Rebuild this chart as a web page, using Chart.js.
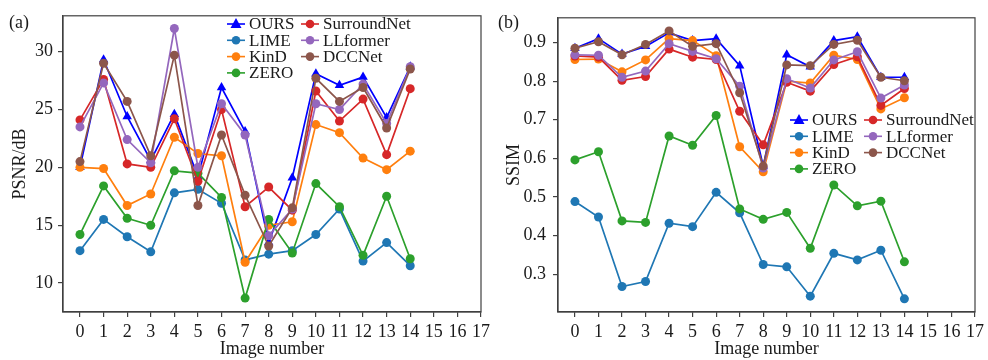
<!DOCTYPE html>
<html>
<head>
<meta charset="utf-8">
<script src="https://cdn.jsdelivr.net/npm/chart.js@4.4.1/dist/chart.umd.min.js"></script>
<style>
  html, body { margin: 0; padding: 0; background: #fff; }
  #wrap { position: relative; width: 988px; height: 360px; }
  .panel { position: absolute; top: 0; width: 494px; height: 360px; }
</style>
</head>
<body>
<div id="wrap">
  <div class="panel" style="left:0"><canvas id="psnrChart"></canvas></div>
  <div class="panel" style="left:494px"><canvas id="ssimChart"></canvas></div>
</div>
<script>
// image indices and axis ticks
const imageNumbers = [0, 1, 2, 3, 4, 5, 6, 7, 8, 9, 10, 11, 12, 13, 14];
const xTickValues = [0, 1, 2, 3, 4, 5, 6, 7, 8, 9, 10, 11, 12, 13, 14, 15, 16, 17];
const psnrTickValues = [10, 15, 20, 25, 30];
const ssimTickValues = [0.3, 0.4, 0.5, 0.6, 0.7, 0.8, 0.9];

const methodNames = ['OURS', 'LIME', 'KinD', 'ZERO', 'SurroundNet', 'LLformer', 'DCCNet'];
const methodColors = ['#0000ff', '#1f77b4', '#ff7f0e', '#2ca02c', '#d62728', '#9467bd', '#8c564b'];

// PSNR (dB) per image
const psnrOurs     = [20.0, 29.3, 24.4, 20.6, 24.6, 19.2, 26.9, 23.1, 13.5, 19.1, 28.1, 27.1, 27.8, 24.3, 28.7];
const psnrLime     = [12.8, 15.5, 14.0, 12.7, 17.8, 18.1, 16.9, 12.0, 12.5, 12.8, 14.2, 16.4, 11.9, 13.5, 11.5];
const psnrKind     = [20.0, 19.9, 16.7, 17.7, 22.6, 21.2, 21.0, 11.8, 15.0, 15.3, 23.7, 23.0, 20.8, 19.8, 21.4];
const psnrZero     = [14.2, 18.4, 15.6, 15.0, 19.7, 19.5, 17.4, 8.7, 15.5, 12.6, 18.6, 16.6, 12.4, 17.5, 12.1];
const psnrSurround = [24.1, 27.6, 20.3, 20.0, 24.2, 18.8, 25.0, 16.6, 18.3, 16.3, 26.6, 24.0, 25.9, 21.1, 26.8];
const psnrLLformer = [23.5, 27.3, 22.4, 20.4, 32.0, 20.0, 25.5, 22.8, 14.1, 16.4, 25.5, 25.0, 27.2, 23.8, 28.7];
const psnrDcc      = [20.5, 29.0, 25.7, 21.0, 29.7, 16.7, 22.8, 17.6, 13.2, 16.5, 27.7, 25.7, 26.9, 23.4, 28.5];

// SSIM per image
const ssimOurs     = [0.885, 0.910, 0.870, 0.890, 0.925, 0.905, 0.910, 0.840, 0.580, 0.868, 0.837, 0.905, 0.915, 0.810, 0.810];
const ssimLime     = [0.488, 0.448, 0.268, 0.281, 0.432, 0.423, 0.512, 0.459, 0.325, 0.319, 0.243, 0.354, 0.337, 0.362, 0.236];
const ssimKind     = [0.856, 0.857, 0.824, 0.855, 0.910, 0.905, 0.866, 0.630, 0.565, 0.800, 0.795, 0.867, 0.856, 0.728, 0.757];
const ssimZero     = [0.596, 0.617, 0.438, 0.434, 0.658, 0.634, 0.711, 0.469, 0.442, 0.460, 0.367, 0.531, 0.477, 0.489, 0.332];
const ssimSurround = [0.865, 0.862, 0.802, 0.812, 0.883, 0.862, 0.856, 0.722, 0.635, 0.797, 0.774, 0.843, 0.863, 0.737, 0.781];
const ssimLLformer = [0.868, 0.867, 0.810, 0.826, 0.897, 0.877, 0.858, 0.787, 0.575, 0.806, 0.782, 0.855, 0.876, 0.756, 0.790];
const ssimDcc      = [0.885, 0.902, 0.868, 0.895, 0.930, 0.890, 0.897, 0.770, 0.580, 0.842, 0.840, 0.895, 0.906, 0.810, 0.801];

const FONT = "'Liberation Serif', 'DejaVu Serif', serif";
const AXIS_COLOR = '#404040';
const TEXT_COLOR = '#1a1a1a';

// frame + panel tag + two-column legend, drawn on top of the chart
const decorPlugin = {
    id: 'decor',
    afterDraw(chart, args, opts) {
        const ctx = chart.ctx;
        const a = chart.chartArea;
        ctx.save();
        ctx.strokeStyle = AXIS_COLOR;
        ctx.lineWidth = 1.2;
        ctx.strokeRect(a.left, a.top, a.right - a.left, a.bottom - a.top);

        ctx.fillStyle = TEXT_COLOR;
        ctx.font = '18px ' + FONT;
        ctx.textBaseline = 'middle';
        ctx.textAlign = 'left';
        ctx.fillText(opts.tag, opts.tagX, 23);

        // legend, column-major like matplotlib ncol=2
        ctx.font = '17px ' + FONT;
        chart.data.datasets.forEach((ds, i) => {
            const col = i < 4 ? 0 : 1;
            const row = i < 4 ? i : i - 4;
            const cx = opts.legendX[col];
            const cy = opts.legendY + row * opts.rowGap;
            ctx.strokeStyle = ds.borderColor;
            ctx.lineWidth = 1.6;
            ctx.beginPath();
            ctx.moveTo(cx - 9, cy);
            ctx.lineTo(cx + 9, cy);
            ctx.stroke();
            ctx.fillStyle = ds.borderColor;
            ctx.beginPath();
            if (ds.pointStyle === 'triangle') {
                ctx.moveTo(cx, cy - 6);
                ctx.lineTo(cx + 5.5, cy + 4);
                ctx.lineTo(cx - 5.5, cy + 4);
                ctx.closePath();
            } else {
                ctx.arc(cx, cy, 4.3, 0, Math.PI * 2);
            }
            ctx.fill();
            ctx.fillStyle = TEXT_COLOR;
            ctx.fillText(ds.label, cx + 13, cy + 1);
        });
        ctx.restore();
    }
};

function buildDatasets(seriesList) {
    return seriesList.map((values, i) => ({
        label: methodNames[i],
        data: values.map((v, k) => ({ x: imageNumbers[k], y: v })),
        borderColor: methodColors[i],
        backgroundColor: methodColors[i],
        borderWidth: 1.7,
        pointStyle: i === 0 ? 'triangle' : 'circle',
        pointRadius: i === 0 ? 5.5 : 4.5,
        pointBorderWidth: 0,
        tension: 0,
        order: seriesList.length - i // later series drawn on top, as in matplotlib
    }));
}

function createPanel(canvasId, cfg) {
    const canvas = document.getElementById(canvasId);
    const ctx = canvas.getContext('2d');
    return new Chart(ctx, {
        type: 'line',
        data: { datasets: buildDatasets(cfg.series) },
        options: {
            responsive: true, maintainAspectRatio: false,
            animation: false,
            layout: { padding: { left: 0, right: cfg.padRight, top: 15, bottom: 0 } },
            scales: {
                x: {
                    type: 'linear', min: -0.72, max: 17,
                    afterBuildTicks: scale => { scale.ticks = xTickValues.map(v => ({ value: v })); },
                    afterFit: scale => { scale.height = 48; },
                    ticks: { color: TEXT_COLOR, font: { family: FONT, size: 18 }, padding: 4, maxRotation: 0, autoSkip: false },
                    grid: { drawOnChartArea: false, drawTicks: true, tickLength: 5, color: AXIS_COLOR, lineWidth: 1.2 },
                    border: { display: true, color: AXIS_COLOR, width: 1.2 },
                    title: { display: true, text: 'Image number', color: TEXT_COLOR, font: { family: FONT, size: 18 }, padding: { top: 0, bottom: 0 } }
                },
                y: {
                    type: 'linear', min: cfg.yMin, max: cfg.yMax,
                    afterBuildTicks: scale => { scale.ticks = cfg.yTicks.map(v => ({ value: v })); },
                    afterFit: scale => { scale.width = cfg.yWidth; },
                    ticks: {
                        color: TEXT_COLOR, font: { family: FONT, size: 18 }, padding: cfg.yTickPad,
                        callback: cfg.yFormat
                    },
                    grid: { drawOnChartArea: false, drawTicks: true, tickLength: 5, color: AXIS_COLOR, lineWidth: 1.2 },
                    border: { display: true, color: AXIS_COLOR, width: 1.2 },
                    title: { display: true, text: cfg.yTitle, color: TEXT_COLOR, font: { family: FONT, size: 18 }, padding: { top: cfg.yTitlePad, bottom: 0 } }
                }
            },
            plugins: {
                legend: { display: false },
                tooltip: { enabled: false },
                decor: cfg.decor
            }
        },
        plugins: [decorPlugin]
    });
}

createPanel('psnrChart', {
    series: [psnrOurs, psnrLime, psnrKind, psnrZero, psnrSurround, psnrLLformer, psnrDcc],
    yMin: 7.5, yMax: 33.1, yTicks: psnrTickValues,
    yFormat: v => String(v),
    yTitle: 'PSNR/dB', yWidth: 63, yTickPad: 5, yTitlePad: 9, padRight: 11,
    decor: { tag: '(a)', tagX: 9, legendX: [236, 310], legendY: 24, rowGap: 16.3 }
});

createPanel('ssimChart', {
    series: [ssimOurs, ssimLime, ssimKind, ssimZero, ssimSurround, ssimLLformer, ssimDcc],
    yMin: 0.202, yMax: 0.964, yTicks: ssimTickValues,
    yFormat: v => v.toFixed(1),
    yTitle: 'SSIM', yWidth: 64, yTickPad: 7, yTitlePad: 9, padRight: 12,
    decor: { tag: '(b)', tagX: 4, legendX: [305, 379], legendY: 120, rowGap: 16.3 }
});
</script>
</body>
</html>
